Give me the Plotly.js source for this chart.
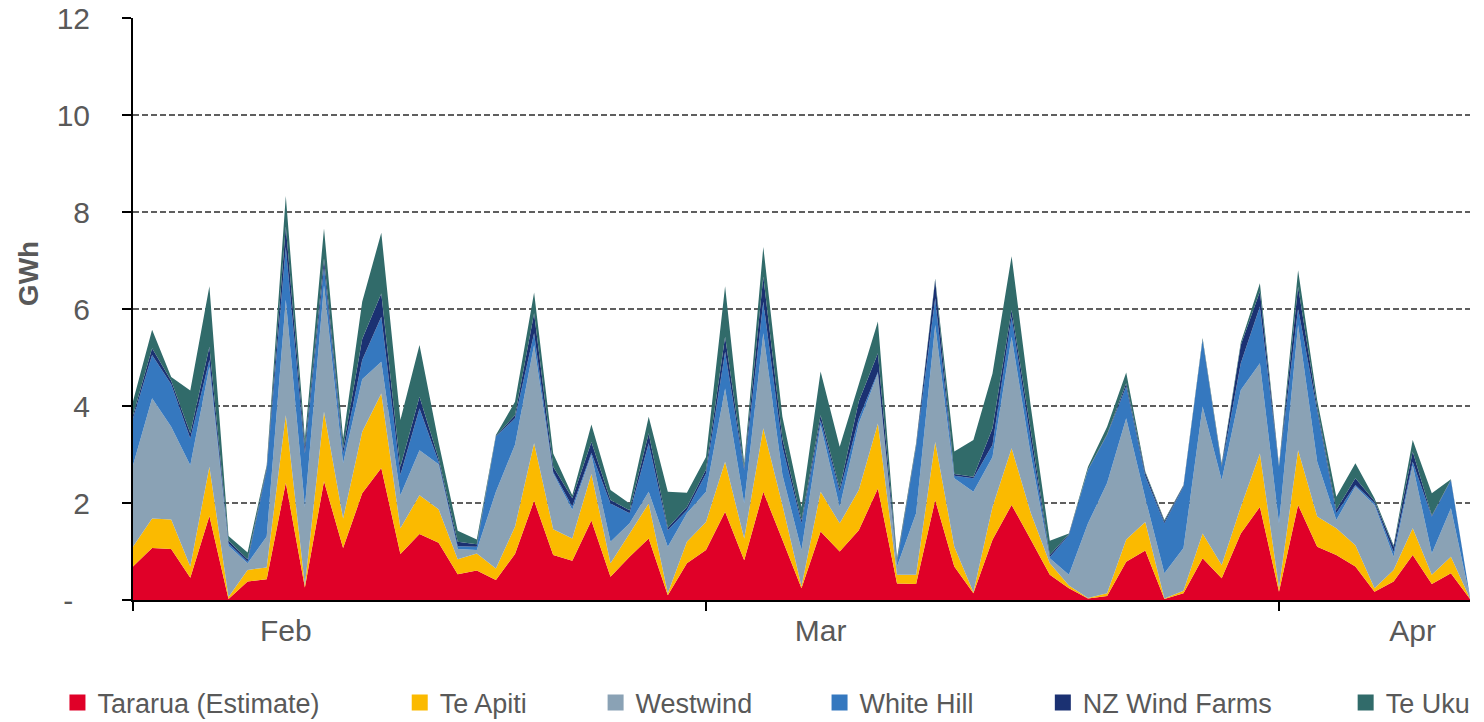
<!DOCTYPE html>
<html>
<head>
<meta charset="utf-8">
<script src="https://cdn.plot.ly/plotly-3.0.1.min.js"></script>
<style>html,body{margin:0;padding:0;background:#fff;}#chart{width:1484px;height:722px;}</style>
</head>
<body>
<div id="chart"></div>
<script>
const dates = [
"2013-01-24","2013-01-25","2013-01-26","2013-01-27","2013-01-28","2013-01-29","2013-01-30","2013-01-31",
"2013-02-01","2013-02-02","2013-02-03","2013-02-04","2013-02-05","2013-02-06","2013-02-07","2013-02-08","2013-02-09","2013-02-10","2013-02-11","2013-02-12","2013-02-13","2013-02-14","2013-02-15","2013-02-16","2013-02-17","2013-02-18","2013-02-19","2013-02-20","2013-02-21","2013-02-22","2013-02-23","2013-02-24","2013-02-25","2013-02-26","2013-02-27","2013-02-28",
"2013-03-01","2013-03-02","2013-03-03","2013-03-04","2013-03-05","2013-03-06","2013-03-07","2013-03-08","2013-03-09","2013-03-10","2013-03-11","2013-03-12","2013-03-13","2013-03-14","2013-03-15","2013-03-16","2013-03-17","2013-03-18","2013-03-19","2013-03-20","2013-03-21","2013-03-22","2013-03-23","2013-03-24","2013-03-25","2013-03-26","2013-03-27","2013-03-28","2013-03-29","2013-03-30","2013-03-31",
"2013-04-01","2013-04-02","2013-04-03","2013-04-04"];

const tararua = [0.69,1.07,1.05,0.46,1.73,0.02,0.38,0.43,2.42,0.26,2.45,1.07,2.20,2.72,0.95,1.36,1.18,0.53,0.61,0.41,0.95,2.05,0.93,0.81,1.64,0.48,0.89,1.27,0.10,0.76,1.03,1.82,0.82,2.23,1.24,0.24,1.41,1.00,1.44,2.30,0.34,0.33,2.06,0.69,0.14,1.24,1.96,1.25,0.52,0.24,0.03,0.08,0.79,1.02,0.02,0.14,0.86,0.45,1.37,1.92,0.17,1.96,1.10,0.93,0.69,0.17,0.38,0.93,0.33,0.55,0.02];
const teApiti = [0.41,0.61,0.61,0.23,1.02,0.04,0.24,0.24,1.39,0.04,1.43,0.61,1.27,1.54,0.53,0.80,0.69,0.31,0.35,0.24,0.56,1.18,0.53,0.46,0.96,0.28,0.48,0.72,0.04,0.44,0.58,1.03,0.45,1.31,0.72,0.04,0.82,0.58,0.83,1.34,0.18,0.19,1.20,0.41,0.02,0.68,1.17,0.55,0.24,0.06,0.01,0.06,0.46,0.59,0.01,0.05,0.51,0.27,0.55,1.10,0.08,1.13,0.62,0.55,0.44,0.07,0.24,0.55,0.19,0.34,0.01];
const westwind = [1.68,2.48,1.91,2.09,2.06,1.06,0.14,0.64,2.38,1.62,2.61,1.14,1.08,0.65,0.68,0.93,0.93,0.21,0.07,1.58,1.69,2.03,1.15,0.59,0.39,0.44,0.21,0.24,0.96,0.59,0.62,1.51,0.72,1.96,0.62,0.75,1.38,0.34,1.37,1.03,0.17,1.27,2.41,1.41,2.07,1.03,2.30,1.20,0.10,0.22,1.54,2.27,2.50,0.49,0.52,0.88,2.62,1.75,2.41,1.86,1.33,2.58,1.13,0.17,1.21,1.72,0.27,1.30,0.44,1.00,0.02];
const whiteHill = [0.97,0.89,0.88,0.55,0.14,0.05,0.03,1.37,1.09,1.10,0.38,0.20,0.40,0.93,0.42,0.86,0.05,0.06,0.07,1.14,0.55,0.24,0.03,0.07,0.04,0.79,0.21,1.00,0.34,0.06,0.38,0.76,0.69,0.65,0.58,0.55,0.09,0.31,0.11,0.03,0.06,1.37,0.55,0.05,0.28,0.25,0.41,0.30,0.02,0.82,1.10,0.99,0.65,0.45,1.03,1.27,1.37,0.28,0.55,1.17,1.17,0.34,1.05,0.14,0.03,0.04,0.10,0.07,0.76,0.58,0.01];
const nzWindFarms = [0.06,0.14,0.07,0.11,0.27,0.05,0.05,0.05,0.42,0.14,0.17,0.11,0.43,0.48,0.17,0.24,0.07,0.09,0.05,0.01,0.06,0.41,0.11,0.17,0.23,0.07,0.06,0.21,0.05,0.07,0.08,0.31,0.05,0.52,0.17,0.07,0.11,0.07,0.35,0.39,0.05,0.03,0.38,0.04,0.03,0.34,0.14,0.20,0.05,0.02,0.01,0.02,0.07,0.07,0.04,0.02,0.01,0.03,0.38,0.31,0.01,0.45,0.08,0.07,0.14,0.04,0.11,0.21,0.02,0.01,0.00];
const teUku = [0.29,0.38,0.08,0.88,1.25,0.10,0.14,0.05,0.63,0.17,0.62,0.20,0.77,1.25,0.96,1.07,0.33,0.23,0.10,0.02,0.28,0.43,0.27,0.06,0.36,0.21,0.14,0.34,0.74,0.29,0.26,1.04,0.09,0.61,0.45,0.27,0.90,0.86,0.35,0.65,0.06,0.04,0.03,0.46,0.76,1.13,1.11,0.50,0.29,0.01,0.06,0.15,0.22,0.03,0.03,0.01,0.03,0.04,0.05,0.17,0.02,0.34,0.14,0.27,0.31,0.06,0.03,0.24,0.46,0.01,0.00];

const seriesNames = ["Tararua (Estimate)","Te Apiti","Westwind","White Hill","NZ Wind Farms","Te Uku"];
const seriesValues = [tararua, teApiti, westwind, whiteHill, nzWindFarms, teUku];
const seriesColors = ["#E00028","#FBBA00","#8AA2B5","#3578BF","#1B3172","#316B6A"];

const monthTickVals = ["2013-02-01","2013-03-01","2013-04-01"];
const monthTickText = ["Feb","Mar","Apr"];
const dividerTicks = ["2013-01-24","2013-02-23","2013-03-25"];
const yTickVals = [0,2,4,6,8,10,12];
const yTickText = ["-\u00a0\u00a0","2","4","6","8","10","12"];

const legendX = [-0.0565, 0.1995, 0.346, 0.5135, 0.6805, 0.907];

const textColor = "#595959";
const fontFam = "Liberation Sans, Arial, sans-serif";

const traces = [];
seriesNames.forEach((name, k) => {
  traces.push({
    type: "scatter", x: dates, y: seriesValues[k], name: name,
    stackgroup: "one", mode: "none", fillcolor: seriesColors[k],
    showlegend: false, hoverinfo: "skip"
  });
});
seriesNames.forEach((name, k) => {
  traces.push({
    type: "scatter", x: [null], y: [null], name: name, mode: "markers",
    marker: {symbol: "square", size: 16, color: seriesColors[k]},
    legend: k === 0 ? "legend" : "legend" + (k + 1), showlegend: true, hoverinfo: "skip"
  });
});

const layout = {
  width: 1484, height: 722,
  margin: {l: 133, r: 14, t: 18, b: 122, autoexpand: false},
  paper_bgcolor: "#ffffff", plot_bgcolor: "#ffffff",
  font: {family: fontFam, color: textColor, size: 27},
  showlegend: true,
  xaxis: {
    type: "date", range: [dates[0], dates[dates.length - 1]],
    tickmode: "array", tickvals: monthTickVals, ticktext: monthTickText,
    ticks: "", showgrid: false, zeroline: false,
    showline: true, linecolor: "#000000", linewidth: 2,
    tickfont: {family: fontFam, size: 30, color: textColor},
    ticklabelstandoff: 3,
    minor: {tickmode: "array", tickvals: dividerTicks, ticks: "outside", ticklen: 9, tickwidth: 2, tickcolor: "#000000", showgrid: false},
    fixedrange: true
  },
  yaxis: {
    range: [0, 12], tickmode: "array", tickvals: yTickVals, ticktext: yTickText,
    ticks: "outside", ticklen: 9, tickwidth: 2, tickcolor: "#000000",
    showline: true, linecolor: "#000000", linewidth: 2,
    showgrid: true, gridcolor: "#5f5f5f", gridwidth: 1.8, griddash: "6px,3px",
    zeroline: false,
    tickfont: {family: fontFam, size: 30, color: textColor},
    ticklabelstandoff: 26,
    fixedrange: true
  },
  annotations: [{
    text: "GWh", xref: "paper", yref: "paper", x: -0.0785, y: 0.56,
    xanchor: "center", yanchor: "middle", showarrow: false, textangle: -90,
    font: {family: fontFam, size: 28, color: textColor, weight: "bold"}
  }]
};
seriesNames.forEach((name, k) => {
  const key = k === 0 ? "legend" : "legend" + (k + 1);
  layout[key] = {
    orientation: "h", x: legendX[k], y: -0.177, xanchor: "left", yanchor: "middle",
    bgcolor: "rgba(0,0,0,0)", borderwidth: 0,
    font: {family: fontFam, size: 27, color: textColor},
    itemwidth: 30, itemsizing: "trace"
  };
});

Plotly.newPlot("chart", traces, layout, {displayModeBar: false, staticPlot: true});
</script>
</body>
</html>
